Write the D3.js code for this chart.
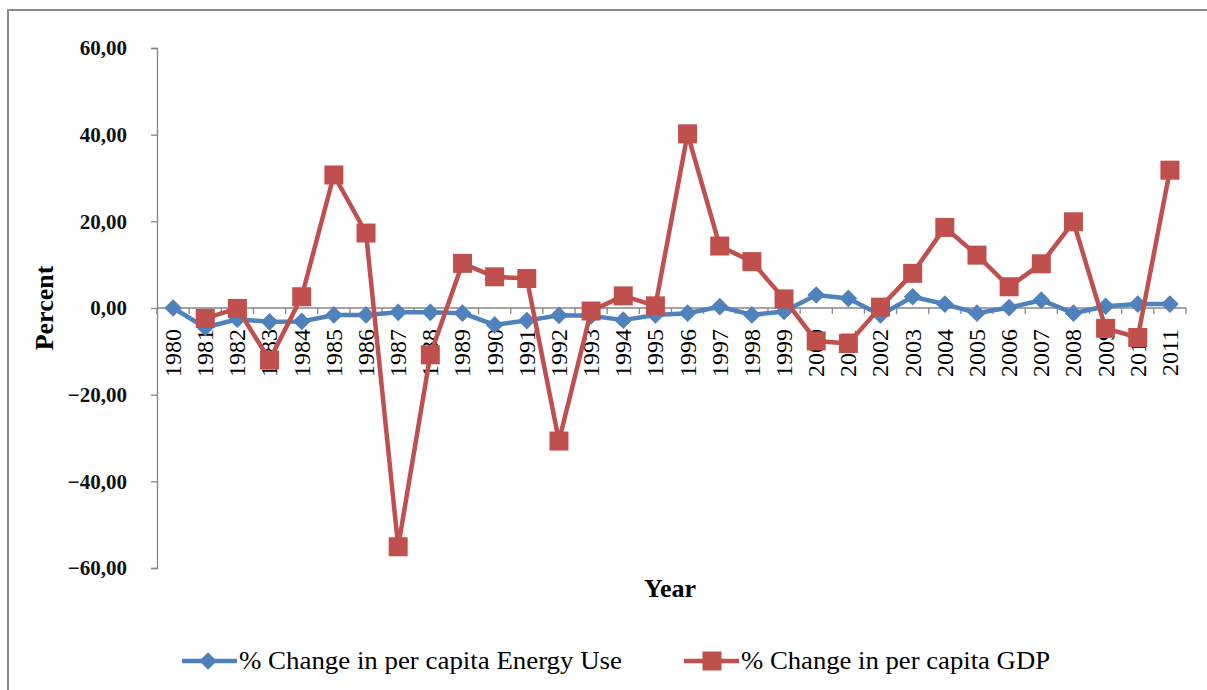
<!DOCTYPE html>
<html>
<head>
<meta charset="utf-8">
<script src="https://cdn.jsdelivr.net/npm/d3@7"></script>
<style>
  html, body { margin: 0; padding: 0; background: #fff; }
  svg { display: block; }
  text { font-family: "Liberation Serif", "Times New Roman", Times, serif; }
</style>
</head>
<body>
<svg id="chart" width="1207" height="690"></svg>
<script>
const years = [1980,1981,1982,1983,1984,1985,1986,1987,1988,1989,1990,1991,1992,1993,1994,1995,1996,1997,1998,1999,2000,2001,2002,2003,2004,2005,2006,2007,2008,2009,2010,2011];
const energyUse = [0.0,-4.5,-2.6,-3.2,-3.1,-1.6,-1.6,-1.0,-1.0,-1.2,-3.9,-2.9,-1.7,-1.8,-2.8,-1.6,-1.2,0.3,-1.6,-0.8,3.0,2.2,-1.6,2.6,0.9,-1.2,0.1,1.8,-1.2,0.4,0.9,0.9];
const gdp = [null,-2.4,-0.1,-12.0,2.6,30.7,17.3,-55.1,-10.8,10.3,7.2,6.8,-30.7,-0.7,2.8,0.5,40.2,14.3,10.7,2.1,-7.6,-8.2,0.2,8.0,18.6,12.2,4.9,10.2,19.9,-4.7,-6.8,31.8];
const yTicks = [-60,-40,-20,0,20,40,60];
const seriesNames = ["% Change in per capita Energy Use", "% Change in per capita GDP"];
const yTitle = "Percent";
const xTitle = "Year";

const FONT = "'Liberation Serif', 'Times New Roman', Times, serif";
const svg = d3.select("#chart");
const blue = "#4F81BD", red = "#C0504D", axisCol = "#868686";

// outer border
svg.append("rect").attr("x", 8).attr("y", 10).attr("width", 1220).attr("height", 700)
  .attr("fill", "none").attr("stroke", "#8a8a8a").attr("stroke-width", 2);

const x = d3.scaleBand().domain(years).range([157, 1186]).padding(0);
const y = d3.scaleLinear().domain([-60, 60]).range([568, 48]);
const cx = d => x(d) + x.bandwidth() / 2;

// y axis
const yAxis = svg.append("g").attr("transform", "translate(157,0)")
  .call(d3.axisLeft(y).tickValues(yTicks).tickSize(6).tickPadding(24)
    .tickFormat(d => d3.format(".2f")(d).replace(".", ",")));
yAxis.select(".domain").attr("stroke", axisCol).attr("stroke-width", 1.3);
yAxis.selectAll(".tick line").attr("stroke", axisCol).attr("stroke-width", 1.3);
yAxis.selectAll(".tick text").attr("font-family", FONT).attr("font-weight", "bold")
  .attr("font-size", 21).attr("fill", "#111");

// x axis at zero
const xAxisG = svg.append("g").attr("transform", `translate(0,${y(0)})`);
xAxisG.append("line").attr("x1", 157).attr("x2", 1186).attr("y1", 0).attr("y2", 0)
  .attr("stroke", axisCol).attr("stroke-width", 1.3);
const bounds = years.map(d => x(d)).concat([x(years[years.length-1]) + x.bandwidth()]);
xAxisG.selectAll("line.tk").data(bounds).join("line").attr("class", "tk")
  .attr("x1", d => d).attr("x2", d => d).attr("y1", 0).attr("y2", 6)
  .attr("stroke", axisCol).attr("stroke-width", 1.3);
xAxisG.selectAll("text.yl").data(years).join("text").attr("class", "yl")
  .attr("transform", d => `translate(${cx(d)},21) rotate(-90)`)
  .attr("text-anchor", "end").attr("dy", "0.33em")
  .attr("font-family", FONT).attr("font-size", 24).attr("fill", "#000")
  .text(d => d);

// titles
svg.append("text").attr("transform", `translate(53,${y(0)}) rotate(-90)`)
  .attr("text-anchor", "middle").attr("font-family", FONT).attr("font-weight", "bold")
  .attr("font-size", 26).text(yTitle);
svg.append("text").attr("x", 670).attr("y", 597).attr("text-anchor", "middle")
  .attr("font-family", FONT).attr("font-weight", "bold").attr("font-size", 26).text(xTitle);

// series
const line = d3.line().defined(d => d.v !== null).x(d => cx(d.yr)).y(d => y(d.v));
const eData = years.map((yr, i) => ({yr, v: energyUse[i]}));
const gData = years.map((yr, i) => ({yr, v: gdp[i]}));

svg.append("path").datum(eData).attr("d", line).attr("fill", "none").attr("stroke", blue)
  .attr("stroke-width", 4.5).attr("stroke-linejoin", "round");
const diamond = d3.symbol().type(d3.symbolDiamond2).size(200);
svg.selectAll("path.dm").data(eData).join("path").attr("class", "dm")
  .attr("d", diamond).attr("transform", d => `translate(${cx(d.yr)},${y(d.v)})`).attr("fill", blue);

svg.append("path").datum(gData).attr("d", line).attr("fill", "none").attr("stroke", red)
  .attr("stroke-width", 4.5).attr("stroke-linejoin", "round");
const sq = 19;
svg.selectAll("rect.sq").data(gData.filter(d => d.v !== null)).join("rect").attr("class", "sq")
  .attr("x", d => cx(d.yr) - sq/2).attr("y", d => y(d.v) - sq/2).attr("width", sq).attr("height", sq)
  .attr("fill", red);

// legend
const lg = svg.append("g");
const ly = 661;
lg.append("line").attr("x1", 182).attr("x2", 237).attr("y1", ly).attr("y2", ly).attr("stroke", blue).attr("stroke-width", 4.5);
lg.append("path").attr("d", diamond).attr("transform", `translate(208,${ly})`).attr("fill", blue);
lg.append("text").attr("x", 239).attr("y", ly + 8).attr("font-family", FONT).attr("font-size", 25)
  .attr("textLength", 383).attr("lengthAdjust", "spacingAndGlyphs").text(seriesNames[0]);
lg.append("line").attr("x1", 684).attr("x2", 739).attr("y1", ly).attr("y2", ly).attr("stroke", red).attr("stroke-width", 4.5);
lg.append("rect").attr("x", 712 - sq/2).attr("y", ly - sq/2).attr("width", sq).attr("height", sq).attr("fill", red);
lg.append("text").attr("x", 741).attr("y", ly + 8).attr("font-family", FONT).attr("font-size", 25)
  .attr("textLength", 309).attr("lengthAdjust", "spacingAndGlyphs").text(seriesNames[1]);
</script>
</body>
</html>
